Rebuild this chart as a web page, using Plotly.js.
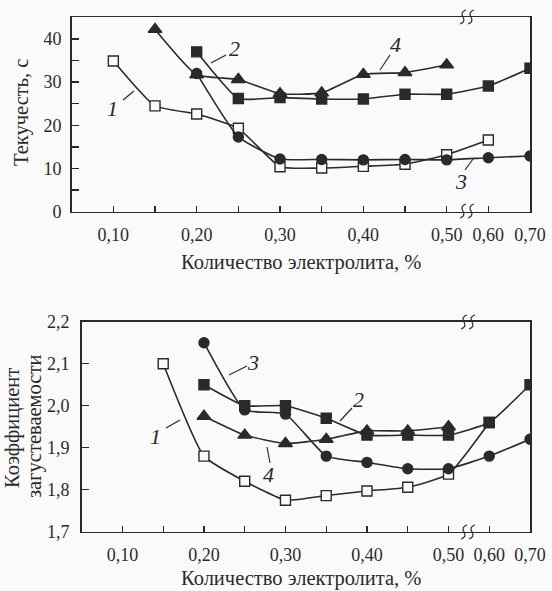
<!DOCTYPE html>
<html>
<head>
<meta charset="utf-8">
<script src="https://cdn.plot.ly/plotly-3.0.1.min.js"></script>
<style>html,body{margin:0;padding:0;background:#fafafa;}#chart{width:552px;height:591px;}</style>
</head>
<body>
<div id="chart"></div>
<script>
// Category labels of the (broken) x axis
const xCategories = ['0,10','0,15','0,20','0,25','0,30','0,35','0,40','0,45','0,50','0,60','0,70'];
const xTickText   = ['0,10','','0,20','','0,30','','0,40','','0,50','0,60','0,70'];

// Top panel: Текучесть, с
const flowX1 = [0.10,0.15,0.20,0.25,0.30,0.35,0.40,0.45,0.50,0.60];
const flowY1 = [34.9,24.5,22.6,19.3,10.4,10.1,10.5,11.0,13.2,16.6];
const flowX2 = [0.20,0.25,0.30,0.35,0.40,0.45,0.50,0.60,0.70];
const flowY2 = [37.0,26.2,26.4,26.1,26.1,27.2,27.2,29.1,33.2];
const flowX3 = [0.20,0.25,0.30,0.35,0.40,0.45,0.50,0.60,0.70];
const flowY3 = [32.0,17.3,12.2,12.1,12.0,12.1,12.0,12.5,12.9];
const flowX4 = [0.15,0.20,0.25,0.30,0.35,0.40,0.45,0.50];
const flowY4 = [42.2,31.7,30.6,27.3,27.5,31.8,32.2,34.0];

// Bottom panel: Коэффициент загустеваемости
const coefX1 = [0.15,0.20,0.25,0.30,0.35,0.40,0.45,0.50,0.60];
const coefY1 = [2.10,1.88,1.82,1.775,1.786,1.797,1.806,1.837,1.96];
const coefX2 = [0.20,0.25,0.30,0.35,0.40,0.45,0.50,0.60,0.70];
const coefY2 = [2.05,2.00,2.00,1.97,1.93,1.93,1.93,1.96,2.05];
const coefX3 = [0.20,0.25,0.30,0.35,0.40,0.45,0.50,0.60,0.70];
const coefY3 = [2.15,1.99,1.98,1.88,1.865,1.85,1.85,1.88,1.92];
const coefX4 = [0.20,0.25,0.30,0.35,0.40,0.45,0.50];
const coefY4 = [1.975,1.93,1.91,1.92,1.94,1.94,1.95];

const W = 552, H = 591;
const INK = '#2a2a2a';
const FONT = '"Liberation Serif", "Times New Roman", "DejaVu Serif", serif';
const toCat = arr => arr.map(v => v.toFixed(2).replace('.', ','));
const px = x => x / W;
const py = y => 1 - y / H;

function trace(xs, ys, sym, axes, filled) {
  return {
    x: toCat(xs), y: ys, xaxis: axes[0], yaxis: axes[1],
    mode: 'lines+markers', type: 'scatter',
    line: {color: INK, width: 1.6, shape: 'spline', smoothing: 0.45},
    marker: {symbol: sym, size: sym === 'triangle-up' ? 12 : 10,
             color: filled ? INK : '#fafafa', line: {color: INK, width: 1.4}},
    hoverinfo: 'skip', showlegend: false
  };
}

const data = [
  trace(flowX1, flowY1, 'square', ['x','y'], false),
  trace(flowX4, flowY4, 'triangle-up', ['x','y'], true),
  trace(flowX3, flowY3, 'circle', ['x','y'], true),
  trace(flowX2, flowY2, 'square', ['x','y'], true),
  trace(coefX1, coefY1, 'square', ['x2','y2'], false),
  trace(coefX4, coefY4, 'triangle-up', ['x2','y2'], true),
  trace(coefX3, coefY3, 'circle', ['x2','y2'], true),
  trace(coefX2, coefY2, 'square', ['x2','y2'], true)
];

const xCommon = {
  type: 'category', categoryorder: 'array', categoryarray: xCategories,
  range: [-1, 10], tickmode: 'array', tickvals: xCategories, ticktext: xTickText,
  ticks: 'inside', ticklen: 6, tickwidth: 1.3, tickcolor: INK,
  showline: true, mirror: true, linecolor: INK, linewidth: 1.5,
  showgrid: false, zeroline: false, ticklabelstandoff: 6,
  tickfont: {family: FONT, size: 18, color: INK}
};

const layout = {
  width: W, height: H,
  margin: {l: 0, r: 0, t: 0, b: 0},
  paper_bgcolor: '#fafafa', plot_bgcolor: '#fafafa',
  separators: ', ',
  showlegend: false,
  font: {family: FONT, color: INK},
  xaxis: Object.assign({}, xCommon, {domain: [px(71.7), px(530)], anchor: 'y'}),
  yaxis: {
    domain: [py(211.7), py(17.3)], anchor: 'x', range: [0, 45],
    tickmode: 'linear', tick0: 0, dtick: 10,
    ticks: 'inside', ticklen: 7, tickwidth: 1.3, tickcolor: INK,
    minor: {dtick: 5, tick0: 0, ticks: 'inside', ticklen: 7, tickwidth: 1.3, tickcolor: INK, showgrid: false},
    showline: true, mirror: true, linecolor: INK, linewidth: 1.5,
    showgrid: false, zeroline: false, ticklabelstandoff: 5,
    tickfont: {family: FONT, size: 18, color: INK}
  },
  xaxis2: Object.assign({}, xCommon, {domain: [px(81.7), px(530)], anchor: 'y2'}),
  yaxis2: {
    domain: [py(531.7), py(321.7)], anchor: 'x2', range: [1.7, 2.2],
    tickmode: 'linear', tick0: 1.7, dtick: 0.1, tickformat: '.1f',
    ticks: 'inside', ticklen: 7, tickwidth: 1.3, tickcolor: INK,
    showline: true, mirror: true, linecolor: INK, linewidth: 1.5,
    showgrid: false, zeroline: false, ticklabelstandoff: 7,
    tickfont: {family: FONT, size: 18, color: INK}
  },
  annotations: [],
  shapes: []
};

function txt(x, y, text, opts) {
  layout.annotations.push(Object.assign({
    xref: 'paper', yref: 'paper', x: px(x), y: py(y), text: text,
    showarrow: false, xanchor: 'center', yanchor: 'middle',
    font: {family: FONT, size: 20.5, color: INK}
  }, opts || {}));
}
function seg(x0, y0, x1, y1) {
  layout.shapes.push({type: 'line', xref: 'paper', yref: 'paper',
    x0: px(x0), y0: py(y0), x1: px(x1), y1: py(y1),
    line: {color: INK, width: 1.2}});
}
function squiggle(cx, cy) {
  [cx - 4, cx + 4].forEach(mx => {
    const p = (x, y) => px(x) + ' ' + py(y);
    layout.shapes.push({type: 'path', xref: 'paper', yref: 'paper',
      path: 'M ' + p(mx + 3, cy - 7) + ' Q ' + p(mx - 3, cy - 5) + ' ' + p(mx, cy) +
            ' Q ' + p(mx + 3, cy + 5) + ' ' + p(mx - 3, cy + 7),
      line: {color: INK, width: 1.2}});
  });
}

// Axis titles
txt(22, 113, 'Текучесть, с', {textangle: -90});
txt(301, 262, 'Количество электролита, %');
txt(301, 578, 'Количество электролита, %');
txt(12, 428, 'Коэффициент', {textangle: -90});
txt(34, 427, 'загустеваемости', {textangle: -90});

// Curve labels (top)
const IT = {font: {family: FONT, size: 22, color: INK, style: 'italic'}};
txt(112, 108, '1', IT); seg(123, 100, 134, 91);
txt(234, 48, '2', IT); seg(226, 55, 211, 63);
txt(395, 44, '4', IT); seg(390, 55, 380, 70);
txt(461, 181, '3', IT); seg(465, 170, 473, 159);
// Curve labels (bottom)
txt(253, 362, '3', IT); seg(247, 366, 229, 375);
txt(155, 436, '1', IT); seg(166, 428, 180, 420);
txt(268, 474, '4', IT); seg(270, 463, 267, 447);
txt(358, 399, '2', IT); seg(352, 408, 340, 421);

// Axis break marks
squiggle(467, 17);
squiggle(467, 211);
squiggle(468, 322);
squiggle(468, 532);

Plotly.newPlot('chart', data, layout, {staticPlot: true, displayModeBar: false});
</script>
</body>
</html>
